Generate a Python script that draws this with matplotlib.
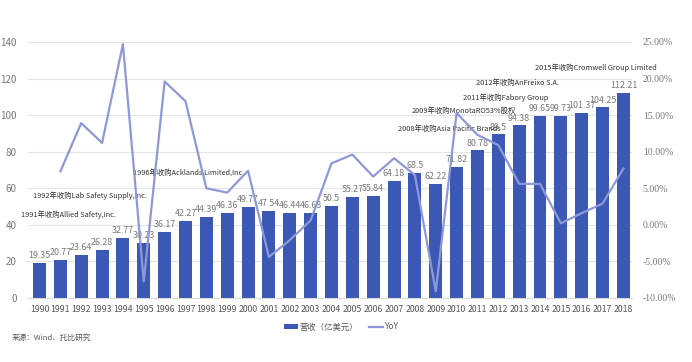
import matplotlib.pyplot as plt
import numpy as np

plt.rcParams['font.family'] = ['Noto Sans CJK SC', 'DejaVu Sans']

years = list(range(1990, 2019))
revenue = [19.35, 20.77, 23.64, 26.28, 32.77, 30.23, 36.17, 42.27, 44.39, 46.36,
           49.77, 47.54, 46.44, 46.63, 50.5, 55.27, 55.84, 64.18, 68.5, 62.22,
           71.82, 80.78, 89.5, 94.38, 99.65, 99.73, 101.37, 104.25, 112.21]
yoy_years = list(range(1991, 2019))
yoy = [7.3, 13.9, 11.2, 24.7, -7.75, 19.6, 16.9, 5.0, 4.4,
       7.4, -4.4, -2.1, 0.6, 8.4, 9.6, 6.6, 9.1, 6.8, -9.1,
       15.3, 12.3, 10.9, 5.6, 5.6, 0.2, 1.6, 2.9, 7.7]

# acquisitions: (year position, left value, text)
notes = [(1990 - 0.9, 45.5, '1991年收购Allied Safety,Inc.'),
         (1990 - 0.3, 55.8, '1992年收购Lab Safety Supply,Inc.'),
         (1994.5, 67.8, '1996年收购Acklands Limited,Inc.'),
         (2007.17, 92.5, '2008年收购Asia Pacific Brands'),
         (2007.85, 102.5, '2009年收购MonotaRO53%股权'),
         (2010.3, 109.5, '2011年收购Fabory Group'),
         (2010.95, 117.5, '2012年收购AnFreixo S.A.'),
         (2013.75, 125.8, '2015年收购Cromwell Group Limited')]

bar_color = '#3a58b4'
line_color = '#8e98d8'

fig = plt.figure(figsize=(6.92, 3.62), dpi=100)
ax = fig.add_axes([0.0405, 0.177, 0.8725, 0.707])
x = np.arange(len(years))
bars = ax.bar(x, revenue, width=0.62, color=bar_color, zorder=2, label='营收（亿美元）')
for xi, v in zip(x, revenue):
    ax.text(xi, v + 1.5, '%g' % v, ha='center', va='bottom', fontsize=6.4, color='#7a7a7a', zorder=4)

ax.set_ylim(0, 140)
ax.set_yticks(range(0, 141, 20))
ax.set_xlim(-0.55, 28.4)
ax.set_xticks(x)
ax.set_xticklabels([str(y) for y in years], fontsize=6.3, color='#555555')
ax.tick_params(axis='y', labelsize=7, colors='#777777', length=0, pad=8)
ax.tick_params(axis='x', length=0, pad=5)
ax.grid(axis='y', color='#e4e4e4', linewidth=0.8, zorder=0)
for s in ax.spines.values():
    s.set_visible(False)
ax.spines['bottom'].set_visible(True)
ax.spines['bottom'].set_color('#d9d9d9')

ax2 = ax.twinx()
xl = [y - 1990 for y in yoy_years]
line, = ax2.plot(xl, yoy, color=line_color, linewidth=1.6, zorder=3, label='YoY')
ax2.set_ylim(-10, 25)
ax2.set_yticks(range(-10, 26, 5))
ax2.set_yticklabels(['%.2f%%' % v for v in range(-10, 26, 5)], fontfamily='Liberation Serif')
ax2.tick_params(axis='y', labelsize=7, colors='#777777', length=0, pad=8)
for s in ax2.spines.values():
    s.set_visible(False)

for xp, yp, t in notes:
    ax.text(xp - 1990, yp, t, fontsize=5.3, color='#333333', ha='left', va='center', zorder=5)

fig.legend([bars, line], ['营收（亿美元）', 'YoY'], loc='center', bbox_to_anchor=(0.493, 0.097),
           ncol=2, frameon=False, fontsize=6, handlelength=1.7, handleheight=0.5,
           handletextpad=0.2, columnspacing=1.3, labelcolor='#555555')
fig.text(0.017, 0.066, '来源：Wind、托比研究', fontsize=5.5, color='#555555', va='center')

fig.savefig('out.png', dpi=100)
